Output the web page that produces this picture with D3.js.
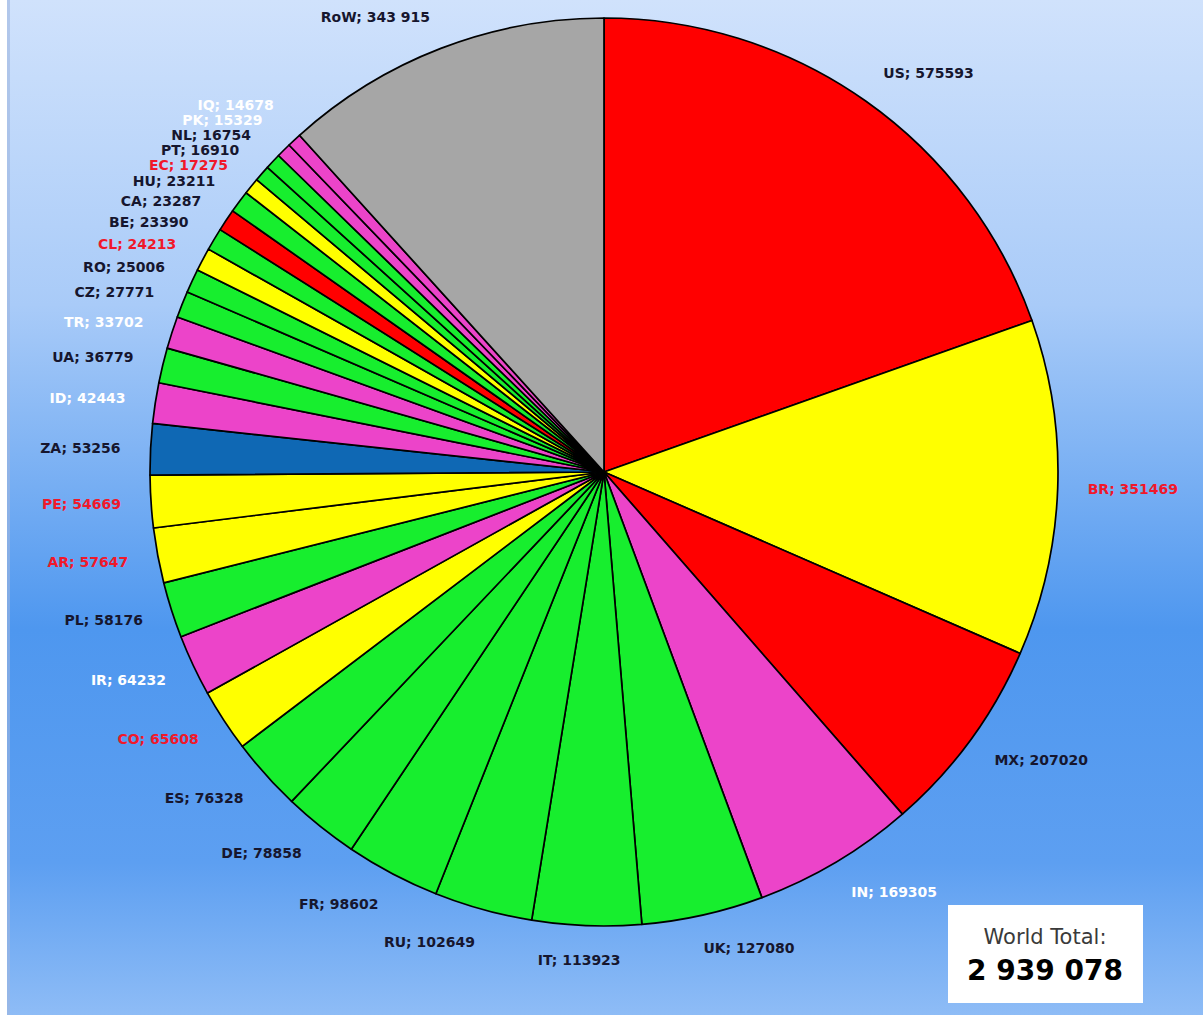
<!DOCTYPE html>
<html>
<head>
<meta charset="utf-8">
<script src="https://cdn.jsdelivr.net/npm/d3@7"></script>
<style>
  html, body { margin: 0; padding: 0; background: #fff; }
  svg { display: block; }
</style>
</head>
<body>
<div id="chart"></div>
<script>
// covid deaths by country, clockwise from 12 o'clock
const countries = ['US','BR','MX','IN','UK','IT','RU','FR','DE','ES','CO','IR','PL','AR','PE','ZA','ID','UA','TR','CZ','RO','CL','BE','CA','HU','EC','PT','NL','PK','IQ','RoW']
const deaths = [575593,351469,207020,169305,127080,113923,102649,98602,78858,76328,65608,64232,58176,57647,54669,53256,42443,36779,33702,27771,25006,24213,23390,23287,23211,17275,16910,16754,15329,14678,343915]
const regions = ['NA','SA','NA','AS','EU','EU','EU','EU','EU','EU','SA','AS','EU','SA','SA','AF','AS','EU','AS','EU','EU','SA','EU','NA','EU','SA','EU','EU','AS','AS','OT']

const regionKeys = ['NA','SA','EU','AS','AF','OT']
const sliceColor = d3.scaleOrdinal().domain(regionKeys)
  .range(['#ff0000','#ffff00','#17ee2e','#ec44c9','#0f68b4','#a6a6a6'])
const labelColor = d3.scaleOrdinal().domain(regionKeys)
  .range(['#16162e','#f0182a','#16162e','#ffffff','#16162e','#16162e'])

const W = 1203, H = 1015
const cx = 604, cy = 472, R = 454

const spaced = d3.formatLocale({ decimal: '.', thousands: ' ', grouping: [3], currency: ['', ''] }).format(',d')

const svg = d3.select('#chart').append('svg')
  .attr('width', W).attr('height', H)

const defs = svg.append('defs')
const grad = defs.append('linearGradient')
  .attr('id', 'bg').attr('x1', 0).attr('y1', 0).attr('x2', 0).attr('y2', 1)
grad.selectAll('stop')
  .data([[0, '#d0e2fc'], [0.3, '#a9cbf8'], [0.62, '#4e97ef'], [0.85, '#5d9ff1'], [1, '#8ebcf6']])
  .enter().append('stop')
  .attr('offset', d => d[0]).attr('stop-color', d => d[1])

svg.append('rect').attr('width', W).attr('height', H).attr('fill', 'url(#bg)')
svg.append('rect').attr('width', 7).attr('height', H).attr('fill', '#ffffff')
svg.append('rect').attr('x', 7).attr('width', 3).attr('height', H).attr('fill', '#9fb6e0').attr('opacity', 0.6)

const data = countries.map((c, i) => ({ name: c, value: deaths[i], region: regions[i] }))

const pie = d3.pie().sort(null).value(d => d.value)
const arc = d3.arc().innerRadius(0).outerRadius(R)
const arcs = pie(data)

const g = svg.append('g').attr('transform', `translate(${cx},${cy})`)

g.selectAll('path')
  .data(arcs)
  .enter().append('path')
  .attr('d', arc)
  .attr('fill', d => sliceColor(d.data.region))
  .attr('stroke', '#000')
  .attr('stroke-width', 1.7)
  .attr('stroke-linejoin', 'round')

// labels, outside end like excel does it
const rl = R + 16
const labels = svg.append('g')
  .style('font-family', '"DejaVu Sans", sans-serif')
  .style('font-weight', 'bold')
  .style('font-size', '14px')

const lab = labels.selectAll('text')
  .data(arcs)
  .enter().append('text')
  .text(d => d.data.name + '; ' + (d.data.name === 'RoW' ? spaced(d.data.value) : d.data.value))
  .attr('fill', d => labelColor(d.data.region))
  .attr('text-anchor', 'middle')
  .attr('dominant-baseline', 'central')
  .each(function(d) {
    const a = (d.startAngle + d.endAngle) / 2
    const s = Math.sin(a), c = Math.cos(a)
    const w = this.getComputedTextLength()
    const k = Math.max(-1, Math.min(1, 4 * s))
    d.lx = cx + rl * s + (w / 2) * k + 14 * s
    d.ly = cy - rl * c - 18 * c
  })

// small slices crowd top-left: push each one up if it sits on the one below
const gap = 15
const crowd = arcs.filter(d => d.data.name !== 'RoW' && d.ly < cy && d.lx < cx)
for (let i = 1; i < crowd.length; i++) {
  if (crowd[i - 1].ly - crowd[i].ly < gap) crowd[i].ly = crowd[i - 1].ly - gap
}
lab.attr('x', d => d.lx).attr('y', d => d.ly)

// world total box
const total = d3.sum(deaths)
const box = svg.append('g').attr('transform', 'translate(948,905)')
box.append('rect').attr('width', 195).attr('height', 98).attr('fill', '#fff')
box.append('text')
  .attr('x', 97).attr('y', 39)
  .attr('text-anchor', 'middle')
  .style('font-family', '"DejaVu Sans", sans-serif')
  .style('font-size', '21px')
  .attr('fill', '#3a3a3a')
  .text('World Total:')
box.append('text')
  .attr('x', 97).attr('y', 75)
  .attr('text-anchor', 'middle')
  .style('font-family', '"DejaVu Sans", sans-serif')
  .style('font-weight', 'bold')
  .style('font-size', '28px')
  .attr('fill', '#000')
  .text(spaced(total))
</script>
</body>
</html>
